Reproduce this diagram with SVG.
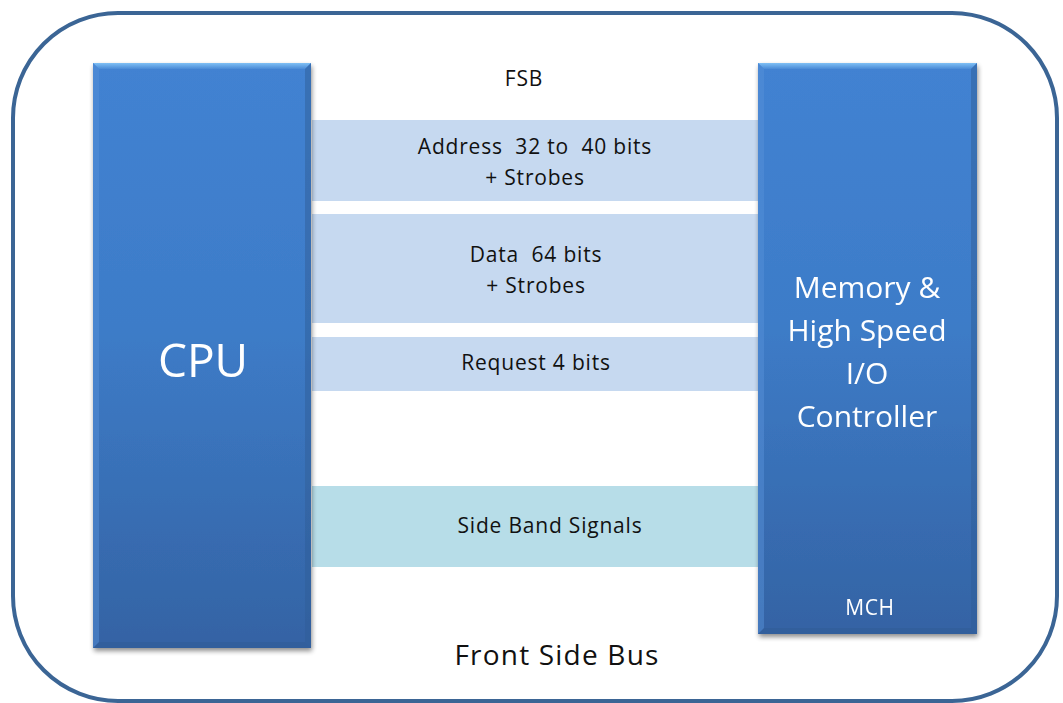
<svg xmlns="http://www.w3.org/2000/svg" width="1063" height="703" viewBox="0 0 1063 703">
<defs>
<linearGradient id="boxg" x1="0" y1="0" x2="0" y2="1">
<stop offset="0" stop-color="#4282d2"/>
<stop offset="0.45" stop-color="#3d7cc8"/>
<stop offset="1" stop-color="#3463a4"/>
</linearGradient>
<linearGradient id="topbev" x1="0" y1="0" x2="0" y2="1">
<stop offset="0" stop-color="#7fc0f5"/>
<stop offset="1" stop-color="#4a8ad6"/>
</linearGradient>
<filter id="sh" x="-10%" y="-10%" width="120%" height="120%">
<feGaussianBlur in="SourceAlpha" stdDeviation="2.5"/>
<feOffset dx="1" dy="3" result="b"/>
<feComponentTransfer><feFuncA type="linear" slope="0.45"/></feComponentTransfer>
<feMerge><feMergeNode/><feMergeNode in="SourceGraphic"/></feMerge>
</filter>
</defs>
<style>
.band{fill:#c6d9f0}
.side{fill:#b7dde8}
.lbl{font-family:"Open Sans","Liberation Sans",sans-serif;font-size:21px;letter-spacing:0.8px;fill:#111111;text-anchor:middle;white-space:pre}
.wt{font-family:"Open Sans","Liberation Sans",sans-serif;fill:#ffffff;text-anchor:middle}
</style>
<rect id="frame" x="13" y="13" width="1044" height="688" rx="105" ry="105" fill="#ffffff" stroke="#3b6595" stroke-width="4"/>
<g id="connectors">
<g id="address-bus">
<rect class="band" x="312" y="120" width="446" height="81"/>
<text class="lbl" x="535" y="154" xml:space="preserve">Address  32 to  40 bits</text>
<text class="lbl" x="535" y="185">+ Strobes</text>
</g>
<g id="data-bus">
<rect class="band" x="312" y="214" width="446" height="109"/>
<text class="lbl" x="536" y="262" xml:space="preserve">Data  64 bits</text>
<text class="lbl" x="536" y="293">+ Strobes</text>
</g>
<g id="request-bus">
<rect class="band" x="312" y="337" width="446" height="54"/>
<text class="lbl" x="536" y="370">Request 4 bits</text>
</g>
<g id="sideband">
<rect class="side" x="312" y="486" width="446" height="81"/>
<text class="lbl" x="550" y="533">Side Band Signals</text>
</g>
</g>
<text class="lbl" x="524" y="86">FSB</text>
<g id="cpu" filter="url(#sh)">
<rect x="93" y="63" width="218" height="585" fill="url(#boxg)"/>
<polygon points="93,63 311,63 305,69 99,69" fill="url(#topbev)"/>
<polygon points="93,648 311,648 305,642 99,642" fill="#2e5b97" opacity="0.6"/>
<polygon points="311,63 311,648 305,642 305,69" fill="#2f5d98" opacity="0.5"/>
<polygon points="93,63 93,648 99,642 99,69" fill="#5590d8" opacity="0.5"/>
<text class="wt" x="203" y="377" font-size="46">CPU</text>
</g>
<g id="mch" filter="url(#sh)">
<rect x="758" y="63" width="219" height="571" fill="url(#boxg)"/>
<polygon points="758,63 977,63 971,69 764,69" fill="url(#topbev)"/>
<polygon points="758,634 977,634 971,628 764,628" fill="#2e5b97" opacity="0.6"/>
<polygon points="977,63 977,634 971,628 971,69" fill="#2f5d98" opacity="0.5"/>
<polygon points="758,63 758,634 764,628 764,69" fill="#5590d8" opacity="0.5"/>
<text class="wt" x="867" y="298" font-size="30">Memory &amp;</text>
<text class="wt" x="867" y="341" font-size="30">High Speed</text>
<text class="wt" x="867" y="384" font-size="30">I/O</text>
<text class="wt" x="867" y="427" font-size="30">Controller</text>
<text class="wt" x="870" y="615" font-size="21" letter-spacing="0.6">MCH</text>
</g>
<text x="557" y="665" font-family="Open Sans,Liberation Sans,sans-serif" font-size="28" letter-spacing="1.2" fill="#111111" text-anchor="middle">Front Side Bus</text>
</svg>
